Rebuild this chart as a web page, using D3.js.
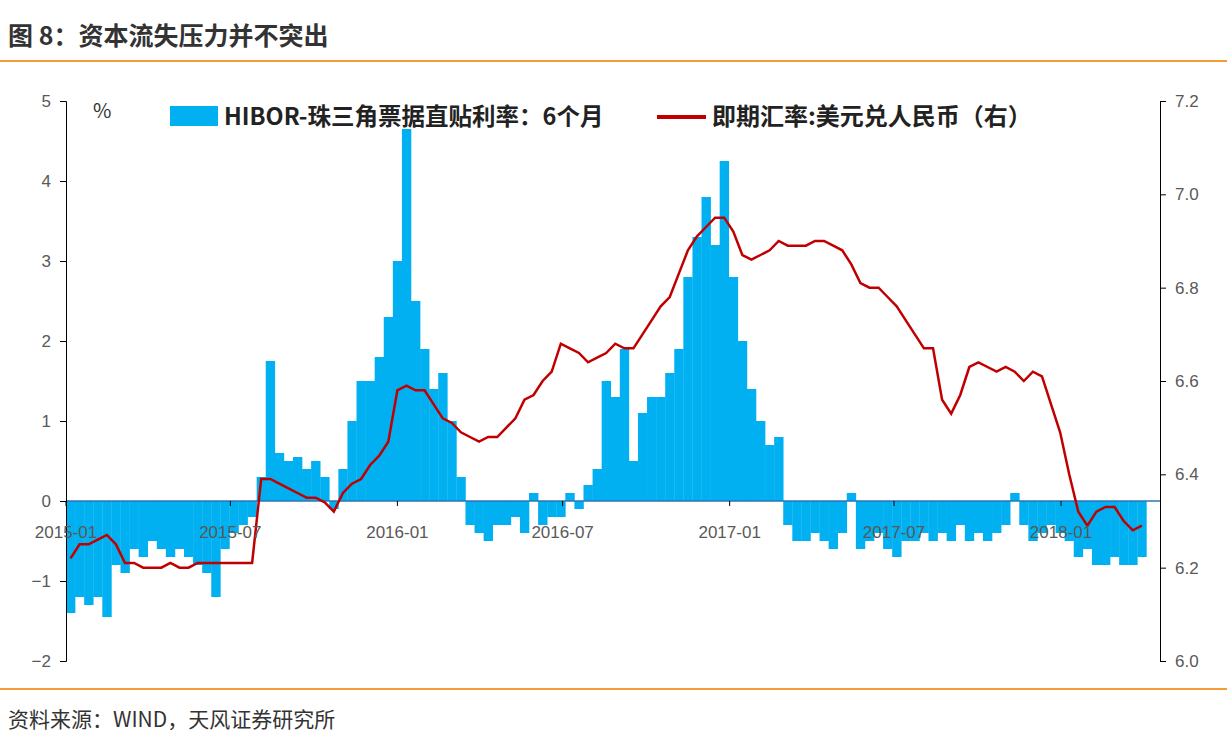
<!DOCTYPE html>
<html><head><meta charset="utf-8">
<script src="https://cdn.jsdelivr.net/npm/d3@7"></script>
<style>body{margin:0;background:#fff;font-family:"Noto Sans CJK SC","Noto Sans",sans-serif}</style>
</head><body><svg id="c" width="1227" height="748"></svg>
<script>
const startDate = "2015-01-01";
const stepDays = 10;
const hiborSpread = [
-1.4,-1.2,-1.3, -1.2,-1.45,-0.8, -0.9,-0.6,-0.7, -0.5,-0.6,-0.7, -0.6,-0.7,-0.8, -0.9,-1.2,-0.6,
-0.4,-0.3,-0.2, 0.3,1.75,0.6, 0.5,0.55,0.4, 0.5,0.3,-0.1, 0.4,1.0,1.5, 1.5,1.8,2.3,
3.0,4.65,2.5, 1.9,1.4,1.6, 1.0,0.3,-0.3, -0.4,-0.5,-0.3, -0.3,-0.2,-0.4, 0.1,-0.3,-0.2,
-0.2,0.1,-0.1, 0.2,0.4,1.5, 1.3,1.9,0.5, 1.1,1.3,1.3, 1.6,1.9,2.8, 3.3,3.8,3.2,
4.25,2.8,2.0, 1.4,1.0,0.7, 0.8,-0.3,-0.5, -0.5,-0.4,-0.5, -0.6,-0.4,0.1, -0.6,-0.5,-0.4,
-0.6,-0.7,-0.5, -0.5,-0.4,-0.5, -0.4,-0.5,-0.3, -0.5,-0.4,-0.5, -0.4,-0.3,0.1, -0.3,-0.5,-0.4,
-0.3,-0.4,-0.5, -0.7,-0.6,-0.8, -0.8,-0.7,-0.8, -0.8,-0.7
];
const usdCny = [
6.22,6.25,6.25, 6.26,6.27,6.25, 6.21,6.21,6.20, 6.20,6.20,6.21, 6.20,6.20,6.21, 6.21,6.21,6.21,
6.21,6.21,6.21, 6.39,6.39,6.38, 6.37,6.36,6.35, 6.35,6.34,6.32, 6.36,6.38,6.39, 6.42,6.44,6.47,
6.58,6.59,6.58, 6.58,6.55,6.52, 6.51,6.49,6.48, 6.47,6.48,6.48, 6.50,6.52,6.56, 6.57,6.60,6.62,
6.68,6.67,6.66, 6.64,6.65,6.66, 6.68,6.67,6.67, 6.70,6.73,6.76, 6.78,6.83,6.88, 6.91,6.93,6.95,
6.95,6.92,6.87, 6.86,6.87,6.88, 6.90,6.89,6.89, 6.89,6.90,6.90, 6.89,6.88,6.85, 6.81,6.80,6.80,
6.78,6.76,6.73, 6.70,6.67,6.67, 6.56,6.53,6.57, 6.63,6.64,6.63, 6.62,6.63,6.62, 6.60,6.62,6.61,
6.55,6.49,6.40, 6.32,6.29,6.32, 6.33,6.33,6.30, 6.28,6.29
];
const leftTicks = [-2,-1,0,1,2,3,4,5];
const rightTicks = [6.0,6.2,6.4,6.6,6.8,7.0,7.2];
const xTickLabels = ["2015-01","2015-07","2016-01","2016-07","2017-01","2017-07","2018-01"];

const svg = d3.select("#c");
const parse = d3.timeParse("%Y-%m-%d");
const t0 = parse(startDate);
const dates = hiborSpread.map((_, i) => d3.timeDay.offset(t0, i * stepDays));
const x = d3.scaleTime().domain([t0, parse("2018-04-20")]).range([66, 1160]);
const yL = d3.scaleLinear().domain([-2, 5]).range([661, 101]);
const yR = d3.scaleLinear().domain([6.0, 7.2]).range([661, 101]);

svg.append("text").attr("x", 8).attr("y", 45).attr("font-size", 25).attr("font-weight", "bold").attr("fill", "#333").text("图 8：资本流失压力并不突出");
svg.append("line").attr("x1", 0).attr("x2", 1227).attr("y1", 61).attr("y2", 61).attr("stroke", "#f39c33").attr("stroke-width", 2);
svg.append("line").attr("x1", 0).attr("x2", 1227).attr("y1", 689).attr("y2", 689).attr("stroke", "#f39c33").attr("stroke-width", 2);
svg.append("text").attr("x", 8).attr("y", 727).attr("font-size", 21).attr("fill", "#333").text("资料来源：WIND，天风证券研究所");

const bw = x(d3.timeDay.offset(t0, stepDays)) - x(t0);
svg.append("g").selectAll("rect").data(hiborSpread).join("rect")
  .attr("x", (d, i) => x(dates[i]))
  .attr("width", bw + 0.3)
  .attr("y", d => yL(Math.max(0, d)))
  .attr("height", d => Math.abs(yL(d) - yL(0)))
  .attr("fill", "#00b0f0");

svg.append("line").attr("x1", 66).attr("x2", 1160).attr("y1", yL(0)).attr("y2", yL(0)).attr("stroke", "#2e75b6").attr("stroke-width", 1.5);

svg.append("path").datum(usdCny)
  .attr("d", d3.line().x((d, i) => x(dates[i]) + bw / 2).y(d => yR(d)))
  .attr("fill", "none").attr("stroke", "#c00000").attr("stroke-width", 2.5);

const axL = svg.append("g").attr("transform", "translate(66,0)").call(d3.axisLeft(yL).tickValues(leftTicks).tickSize(6).tickFormat(d3.format("d")));
const axR = svg.append("g").attr("transform", "translate(1160,0)").call(d3.axisRight(yR).tickValues(rightTicks).tickSize(6).tickFormat(d3.format(".1f")));
[axL, axR].forEach(a => { a.selectAll("text").attr("font-size", 17).attr("fill", "#595959").attr("font-family", "Liberation Sans, sans-serif"); a.selectAll("line,path").attr("stroke", "#000"); });
axL.selectAll("text").attr("dx", -6);
axR.selectAll("text").attr("dx", 6);

const xg = svg.append("g");
xTickLabels.forEach(s => {
  const px = x(parse(s + "-01"));
  xg.append("line").attr("x1", px).attr("x2", px).attr("y1", yL(0)).attr("y2", yL(0) + 5).attr("stroke", "#000");
  xg.append("text").attr("x", px).attr("y", 538).attr("text-anchor", "middle").attr("font-size", 17).attr("fill", "#595959").attr("font-family", "Liberation Sans, sans-serif").text(s);
});

svg.append("text").attr("x", 93).attr("y", 118).attr("font-size", 20).attr("fill", "#333").text("%");
svg.append("rect").attr("x", 170).attr("y", 106).attr("width", 48).attr("height", 20).attr("fill", "#00b0f0");
svg.append("text").attr("x", 224).attr("y", 125).attr("font-size", 23.5).attr("font-weight", "bold").attr("fill", "#222").text("HIBOR-珠三角票据直贴利率：6个月");
svg.append("line").attr("x1", 657).attr("x2", 706).attr("y1", 117).attr("y2", 117).attr("stroke", "#c00000").attr("stroke-width", 4);
svg.append("text").attr("x", 712).attr("y", 125).attr("font-size", 24).attr("font-weight", "bold").attr("fill", "#222").text("即期汇率:美元兑人民币（右）");
</script></body></html>
